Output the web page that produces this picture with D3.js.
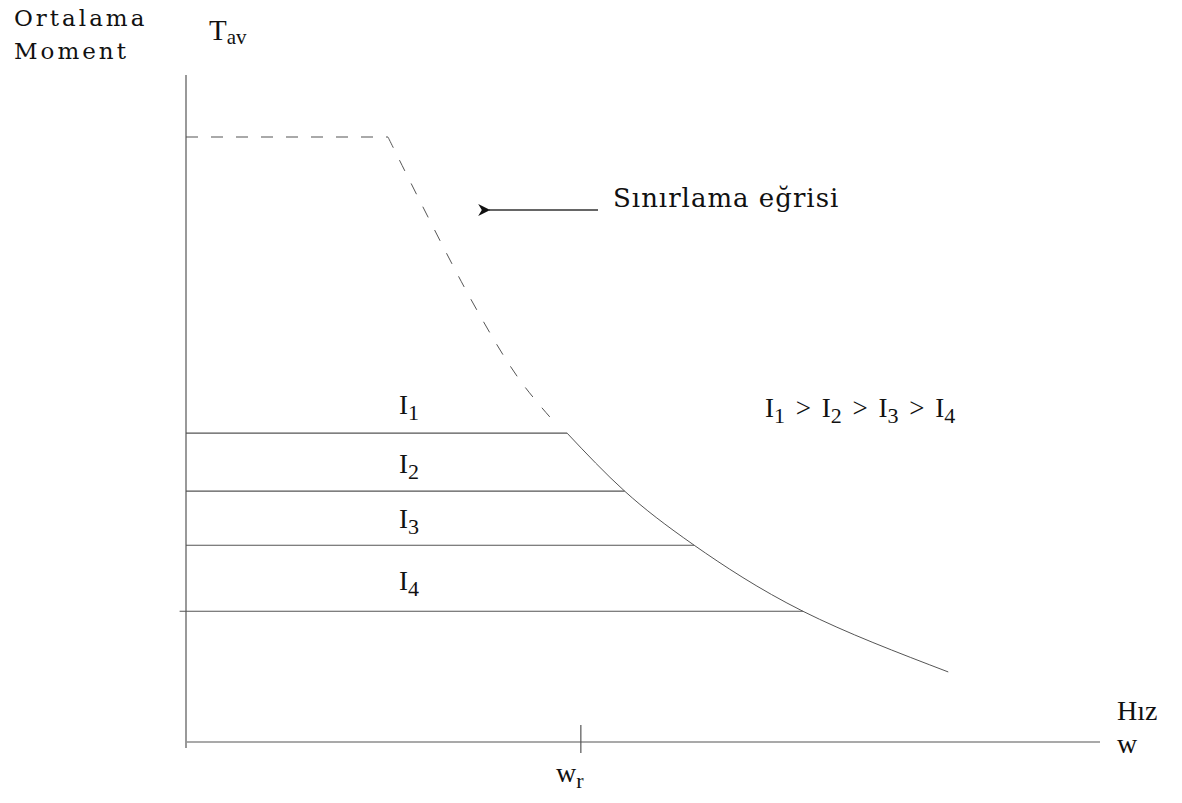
<!DOCTYPE html>
<html>
<head>
<meta charset="utf-8">
<script src="https://cdn.jsdelivr.net/npm/d3@7"></script>
<style>
  body { margin: 0; background: #fff; }
  text { fill: #111; white-space: pre; }
</style>
</head>
<body>
<div id="content"></div>
<script>
// schematic units: speed 0..100, torque 0..100
const limitFlat = [{w: 0, t: 90.7}, {w: 22.1, t: 90.7}]
const limitDashed = [
    {w: 22.1, t: 90.7}, {w: 31.2, t: 66.3}, {w: 36.5, t: 54.3}, {w: 40.6, t: 47.5}
]
const limitSolid = [
    {w: 41.7, t: 46.3}, {w: 48.0, t: 37.6}, {w: 55.6, t: 29.5},
    {w: 67.5, t: 19.6}, {w: 83.4, t: 10.5}
]
const currents = ["1", "2", "3", "4"]
const currentTorque = [46.3, 37.6, 29.5, 19.6]
const currentEnd = [41.7, 48.0, 55.6, 67.5]
const currentStart = [0, 0, 0, -0.7]
const labelTorque = [49.2, 40.3, 32.1, 22.8]
const wRated = 43.2

const outerWidth = 1182
const outerHeight = 803

const svg = d3.select("#content").append("svg")
    .attr("width", outerWidth)
    .attr("height", outerHeight)

const xScale = d3.scaleLinear().domain([0, 100]).range([186, 1100])
const yScale = d3.scaleLinear().domain([0, 100]).range([742, 75])

const ink = "#555"
const serif = "'DejaVu Serif', serif"
const times = "'Liberation Serif', 'Times New Roman', serif"

// axes
svg.append("line")
    .attr("x1", xScale(0)).attr("x2", xScale(0))
    .attr("y1", yScale(100)).attr("y2", yScale(-0.9))
    .attr("stroke", ink).attr("stroke-width", 1.2)
svg.append("line")
    .attr("x1", xScale(0.1)).attr("x2", xScale(100))
    .attr("y1", yScale(0)).attr("y2", yScale(0))
    .attr("stroke", ink).attr("stroke-width", 1.2)
svg.append("line")
    .attr("x1", xScale(wRated)).attr("x2", xScale(wRated))
    .attr("y1", yScale(0) - 17).attr("y2", yScale(0) + 11)
    .attr("stroke", ink).attr("stroke-width", 1.2)

const line = d3.line()
    .x(d => xScale(d.w))
    .y(d => yScale(d.t))

// limit curve
svg.append("path")
    .datum(limitFlat)
    .attr("d", line)
    .attr("fill", "none").attr("stroke", ink).attr("stroke-width", 1.1)
    .attr("stroke-dasharray", "12,13")
svg.append("path")
    .datum(limitDashed)
    .attr("d", line.curve(d3.curveCatmullRom))
    .attr("fill", "none").attr("stroke", ink).attr("stroke-width", 1)
    .attr("stroke-dasharray", "12,14")
svg.append("path")
    .datum(limitSolid)
    .attr("d", line.curve(d3.curveNatural))
    .attr("fill", "none").attr("stroke", ink).attr("stroke-width", 1)

// constant current lines
svg.selectAll(".iline")
    .data(currents)
    .enter().append("line")
    .attr("class", "iline")
    .attr("x1", (d, i) => xScale(currentStart[i]))
    .attr("x2", (d, i) => xScale(currentEnd[i]))
    .attr("y1", (d, i) => yScale(currentTorque[i]))
    .attr("y2", (d, i) => yScale(currentTorque[i]))
    .attr("stroke", ink).attr("stroke-width", 1.2)

const ilabel = svg.selectAll(".ilabel")
    .data(currents)
    .enter().append("text")
    .attr("class", "ilabel")
    .attr("x", 399)
    .attr("y", (d, i) => yScale(labelTorque[i]))
    .style("font-family", times)
    .style("font-size", "27px")
ilabel.append("tspan").text("I")
ilabel.append("tspan").attr("dy", 6).style("font-size", "22px").text(d => d)

// inequality
const ineq = svg.append("text")
    .attr("x", 765).attr("y", 417)
    .style("font-family", times)
    .style("font-size", "27px")
currents.forEach((c, i) => {
    if (i) ineq.append("tspan").attr("dy", -6).attr("dx", 4).text(" > ")
    ineq.append("tspan").attr("dx", i ? 4 : 0).text("I")
    ineq.append("tspan").attr("dy", 6).style("font-size", "22px").text(c)
})

// arrow + caption
svg.append("defs").append("marker")
    .attr("id", "head")
    .attr("viewBox", "0 0 10 10")
    .attr("refX", 1).attr("refY", 5)
    .attr("markerWidth", 14).attr("markerHeight", 12)
    .attr("markerUnits", "userSpaceOnUse")
    .attr("orient", "auto-start-reverse")
  .append("path")
    .attr("d", "M0,5 L10,0 L7,5 L10,10 Z")
    .attr("fill", "#111")
svg.append("line")
    .attr("x1", 489).attr("x2", 598)
    .attr("y1", 210).attr("y2", 210)
    .attr("stroke", "#333").attr("stroke-width", 1.4)
    .attr("marker-start", "url(#head)")
svg.append("text")
    .attr("x", 613).attr("y", 207)
    .style("font-family", serif)
    .style("font-size", "26px")
    .style("letter-spacing", "1px")
    .text("Sınırlama eğrisi")

// axis titles
svg.append("text")
    .attr("x", 14).attr("y", 26)
    .style("font-family", serif).style("font-size", "23px")
    .style("letter-spacing", "3px")
    .text("Ortalama")
svg.append("text")
    .attr("x", 14).attr("y", 59)
    .style("font-family", serif).style("font-size", "23px")
    .style("letter-spacing", "3px")
    .text("Moment")

const tav = svg.append("text")
    .attr("x", 209).attr("y", 40)
    .style("font-family", times).style("font-size", "29px")
tav.append("tspan").text("T")
tav.append("tspan").attr("dy", 4).style("font-size", "21px").text("av")

svg.append("text")
    .attr("x", 1117).attr("y", 720)
    .style("font-family", times).style("font-size", "28px")
    .text("Hız")
svg.append("text")
    .attr("x", 1117).attr("y", 753)
    .style("font-family", times).style("font-size", "28px")
    .text("w")

const wr = svg.append("text")
    .attr("x", 556).attr("y", 782)
    .style("font-family", times).style("font-size", "28px")
wr.append("tspan").text("w")
wr.append("tspan").attr("dy", 6).style("font-size", "22px").text("r")
</script>
</body>
</html>
